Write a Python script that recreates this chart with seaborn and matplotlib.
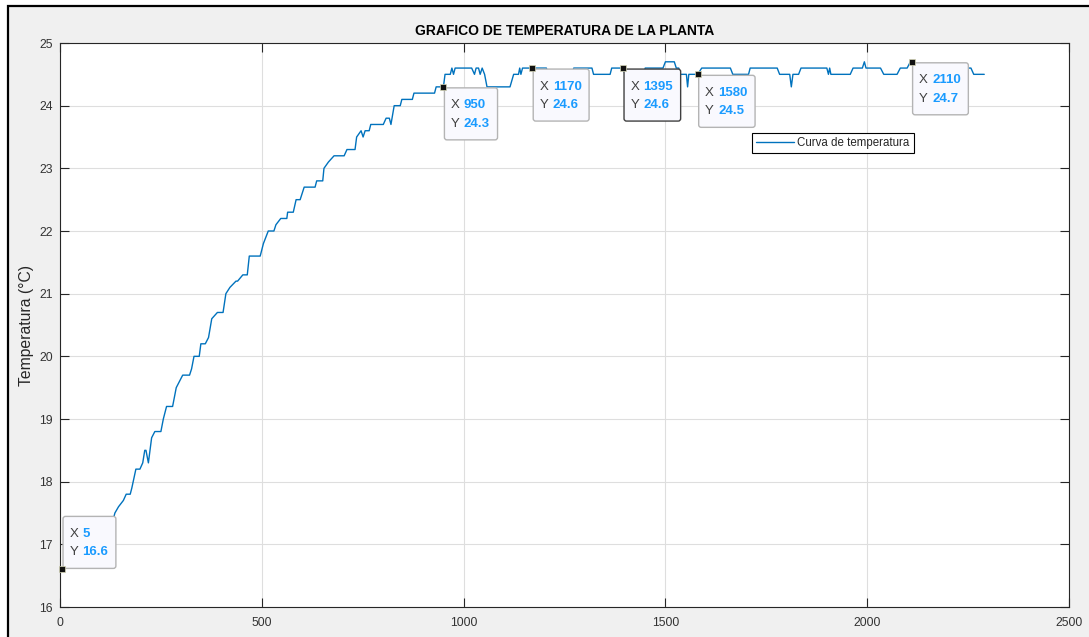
import matplotlib
matplotlib.use("Agg")
import matplotlib.pyplot as plt
from matplotlib.patches import FancyBboxPatch, Rectangle
from matplotlib.transforms import Affine2D
import seaborn as sns
import pandas as pd

# ---------------- data ----------------
tiempo = [5, 40, 80, 115, 132, 136, 145, 157, 164, 174, 178, 188, 198, 205, 210, 213,
          219, 223, 227, 235, 250, 256, 264, 279, 288, 304, 321, 326, 332, 345, 349,
          360, 368, 376, 390, 404, 411, 421, 436, 440, 453, 464, 469, 496, 504, 516,
          530, 535, 547, 562, 564, 578, 585, 595, 605, 632, 636, 651, 654, 665, 679,
          704, 711, 731, 735, 746, 751, 756, 766, 770, 801, 808, 816, 820, 828, 843,
          847, 873, 877,
          928, 932, 950, 954, 967, 971, 975, 979, 1020, 1027, 1031, 1037, 1041, 1046,
          1052, 1058, 1115, 1124, 1136, 1139, 1142, 1146, 1165, 1170, 1205, 1210,
          1268, 1273, 1318, 1322, 1363, 1367, 1395, 1400, 1446, 1450, 1494, 1500,
          1522, 1527, 1533, 1537, 1552, 1555, 1558, 1575, 1580, 1590, 1661, 1667,
          1706, 1710, 1777, 1783, 1808, 1812, 1816, 1830, 1836, 1900, 1904, 1907,
          1910, 1958, 1965, 1988, 1993, 1997, 2033, 2041, 2074, 2082, 2099, 2107,
          2110, 2130, 2140, 2252, 2257, 2264, 2290]
temperatura = [16.6, 16.8, 17.0, 17.2, 17.4, 17.5, 17.6, 17.7, 17.8, 17.8, 17.9, 18.2,
               18.2, 18.3, 18.5, 18.5, 18.3, 18.5, 18.7, 18.8, 18.8, 19.0, 19.2, 19.2,
               19.5, 19.7, 19.7, 19.8, 20.0, 20.0, 20.2, 20.2, 20.3, 20.6, 20.7, 20.7,
               21.0, 21.1, 21.2, 21.2, 21.3, 21.3, 21.6, 21.6, 21.8, 22.0, 22.0, 22.1,
               22.2, 22.2, 22.3, 22.3, 22.5, 22.5, 22.7, 22.7, 22.8, 22.8, 23.0, 23.1,
               23.2, 23.2, 23.3, 23.3, 23.5, 23.6, 23.5, 23.6, 23.6, 23.7, 23.7, 23.8,
               23.8, 23.7, 24.0, 24.0, 24.1, 24.1, 24.2,
               24.2, 24.3, 24.3, 24.5, 24.5, 24.6, 24.5, 24.6,
               24.6, 24.5, 24.6, 24.6, 24.5, 24.6, 24.5, 24.3, 24.3, 24.5, 24.5, 24.6,
               24.5, 24.6, 24.6, 24.6, 24.6, 24.5, 24.5, 24.6, 24.6, 24.5, 24.5, 24.6,
               24.6, 24.5, 24.5, 24.6, 24.6, 24.7, 24.7, 24.6, 24.6, 24.5, 24.5, 24.3,
               24.5, 24.5, 24.5, 24.6, 24.6, 24.5, 24.5, 24.6, 24.6, 24.5, 24.5, 24.3,
               24.5, 24.5, 24.6, 24.6, 24.5, 24.6, 24.5, 24.5, 24.6, 24.6, 24.7, 24.6,
               24.6, 24.5, 24.5, 24.6, 24.6, 24.7, 24.7, 24.6, 24.6, 24.6, 24.6, 24.5,
               24.5]

tip_x = [5, 950, 1170, 1395, 1580, 2110]
tip_y = [16.6, 24.3, 24.6, 24.6, 24.5, 24.7]
tip_above = [True, False, False, False, False, False]
tip_selected = [False, False, False, True, False, False]

x_ticks = [0, 500, 1000, 1500, 2000, 2500]
y_ticks = [16, 17, 18, 19, 20, 21, 22, 23, 24, 25]

titulo = "GRAFICO DE TEMPERATURA DE LA PLANTA"
etiqueta_y = "Temperatura (°C)"
etiqueta_serie = "Curva de temperatura"

# ---------------- style ----------------
sns.set_style("white")
plt.rcParams["font.family"] = ["Liberation Sans", "DejaVu Sans"]

W, H = 1089, 637
fig = plt.figure(figsize=(W / 100, H / 100), dpi=100, facecolor="white")
fig.patches.append(Rectangle((8 / W, -0.05), 1.2, (H - 6) / H + 0.05,
                             transform=fig.transFigure, facecolor="#f0f0f0",
                             edgecolor="black", linewidth=1.6, zorder=-10))

ax = fig.add_axes([60 / W, 1 - 607 / H, 1009 / W, 564 / H])
ax.set_facecolor("white")

df = pd.DataFrame({"t": tiempo, "T": temperatura})
line_color = "#0072BD"
sns.lineplot(data=df, x="t", y="T", ax=ax, color=line_color, linewidth=1.0,
             label=etiqueta_serie, zorder=3)

ax.set_xlim(0, 2500)
ax.set_ylim(16, 25)
ax.set_xticks(x_ticks)
ax.set_yticks(y_ticks)
ax.set_xlabel("")
ax.set_ylabel(etiqueta_y, fontsize=11.3, color="#262626", labelpad=4)
ax.set_title(titulo, fontsize=10, fontweight="bold", color="black", pad=6)

ax.grid(True, color="#dedede", linewidth=0.8, zorder=0)
ax.set_axisbelow(True)
for s in ax.spines.values():
    s.set_color("#262626")
    s.set_linewidth(0.8)
    s.set_visible(True)
ax.tick_params(axis="both", direction="in", length=6.5, width=0.8, color="#262626",
               labelsize=8.8, labelcolor="#333333", top=True, right=True,
               left=True, bottom=True)
ax.tick_params(axis="x", pad=7)
ax.tick_params(axis="y", pad=5)

leg = ax.legend(loc="upper left", bbox_to_anchor=((751.7 - 60) / 1009, (607 - 133.3) / 564),
                fontsize=8.3, frameon=True, fancybox=False, borderaxespad=0,
                handlelength=3.3, handletextpad=0.3, borderpad=0.35)
leg.get_frame().set_edgecolor("black")
leg.get_frame().set_linewidth(0.8)
leg.get_frame().set_facecolor("white")
leg.get_frame().set_alpha(1)

# markers at the data tips
ax.plot(tip_x, tip_y, linestyle="none", marker="s", markersize=3.8,
        markerfacecolor="#111111", markeredgecolor="#d8d8b8", markeredgewidth=0.5,
        zorder=8, clip_on=False)

# data tip boxes
fig.canvas.draw()
renderer = fig.canvas.get_renderer()
blue = "#1a9bff"
for x, y, above, sel in zip(tip_x, tip_y, tip_above, tip_selected):
    px, py = ax.transData.transform((x, y))
    box_h = 52
    left = 1.0
    if above:
        bottom = 1.0
    else:
        bottom = -1.0 - box_h
    top = bottom + box_h
    tr = Affine2D().translate(px, py)
    texts = []
    for i, (lab, val) in enumerate([("X", f"{x:g}"), ("Y", f"{y:.1f}")]):
        cy = top - 17.5 - i * 18.5
        t1 = ax.text(left + 6.5, cy, lab, transform=tr, fontsize=9.5, color="#404040",
                     va="center", ha="left", zorder=7)
        t2 = ax.text(left + 19.5, cy, val, transform=tr, fontsize=9.5, color=blue,
                     fontweight="bold", va="center", ha="left", zorder=7)
        texts.append(t2)
    right_px = max(t.get_window_extent(renderer).x1 for t in texts) - px
    box_w = max(right_px + 7.5 - left, 49)
    patch = FancyBboxPatch((left, bottom), box_w, box_h,
                           boxstyle="round,pad=0,rounding_size=2.5", transform=tr,
                           facecolor="#f9f9fe",
                           edgecolor="#404040" if sel else "#b4b4b4",
                           linewidth=1.0, zorder=6)
    ax.add_patch(patch)

fig.savefig("out.png", dpi=100, facecolor=fig.get_facecolor())
